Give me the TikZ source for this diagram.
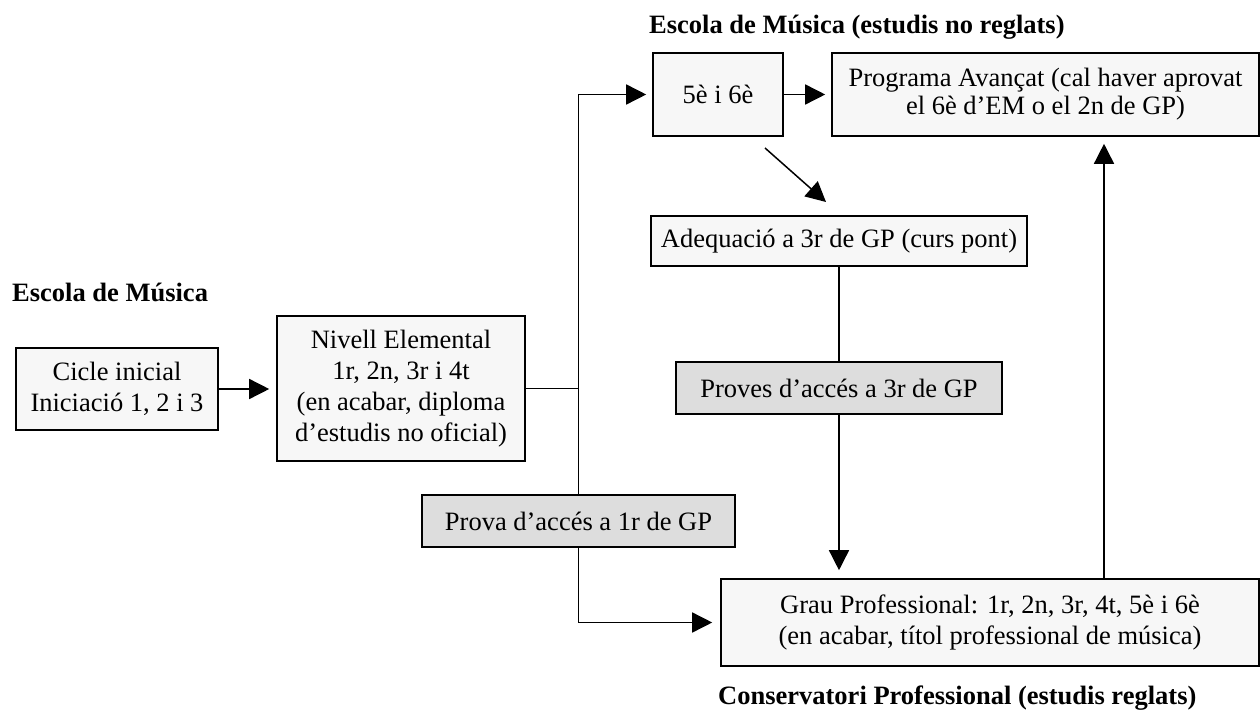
\documentclass[tikz,border=0pt]{standalone}
\usepackage{fontspec}
\setmainfont{Liberation Serif}
\usetikzlibrary{arrows.meta}
\definecolor{boxfill}{RGB}{247,247,247}
\definecolor{testfill}{RGB}{221,221,221}
\begin{document}
\begin{tikzpicture}[x=1pt,y=-1pt,
  box/.style={draw, line width=1.6pt, fill=boxfill, inner sep=0pt, align=center,
    font=\fontsize{26.5}{31}\selectfont},
  testbox/.style={box, fill=testfill},
  title/.style={font=\fontsize{26.5}{31}\selectfont\bfseries, inner sep=0pt, anchor=west},
  conn/.style={line width=1.5pt},
  arr/.style={conn, -{Triangle[length=20pt,width=20pt]}}
]
\useasboundingbox (0,0) rectangle (1260,711);

\node[title] (t1) at (12,292) {Escola de Música};
\node[title] (t2) at (649,27) {Escola de Música (estudis no reglats)};
\node[title] (t3) at (718,698) {Conservatori Professional (estudis reglats)};

\node[box, minimum width=202pt, minimum height=82pt] (cicle) at (117,389)
  {Cicle inicial\\Iniciació 1, 2 i 3};
\node[box, minimum width=248pt, minimum height=145pt] (nivell) at (401,388.5)
  {Nivell Elemental\\1r, 2n, 3r i 4t\\(en acabar, diploma\\d’estudis no oficial)};
\node[box, minimum width=130pt, minimum height=83pt] (cinc) at (718,94.5) {5è i 6è};
\node[box, minimum width=427pt, minimum height=83pt, font=\fontsize{26.5}{28}\selectfont] (prog) at (1045.5,94.5)
  {Programa Avançat (cal haver aprovat\\el 6è d’EM o el 2n de GP)};
\node[box, minimum width=376pt, minimum height=50pt] (adeq) at (839,241)
  {Adequació a 3r de GP (curs pont)};
\node[testbox, minimum width=326pt, minimum height=52pt] (proves) at (839,388)
  {Proves d’accés a 3r de GP};
\node[testbox, minimum width=313pt, minimum height=52pt] (prova) at (578.5,521)
  {Prova d’accés a 1r de GP};
\node[box, minimum width=538pt, minimum height=87pt] (grau) at (990,622.5)
  {Grau Professional: 1r, 2n, 3r, 4t, 5è i 6è\\(en acabar, títol professional de música)};

\coordinate (j1) at (nivell.east -| prova.north);
\coordinate (d1) at (765,148);
\coordinate (d2) at (826,202);
\coordinate (gtop) at (1104,579);

\draw[arr, shorten >=7pt] (cicle.east) -- (cicle.east -| nivell.west);
\draw[conn] (nivell.east) -- (j1);
\draw[arr, shorten >=6pt] (prova.north) |- (cinc.west);
\draw[arr, shorten >=8pt] (prova.south) |- (grau.west);
\draw[arr, shorten >=6pt] (cinc.east) -- (prog.west);
\draw[arr] (d1) -- (d2);
\draw[conn] (adeq.south) -- (proves.north);
\draw[arr, shorten >=8pt] (proves.south) -- (proves.south |- grau.north);
\draw[arr, shorten >=7pt] (gtop) -- (gtop |- prog.south);
\end{tikzpicture}
\end{document}
